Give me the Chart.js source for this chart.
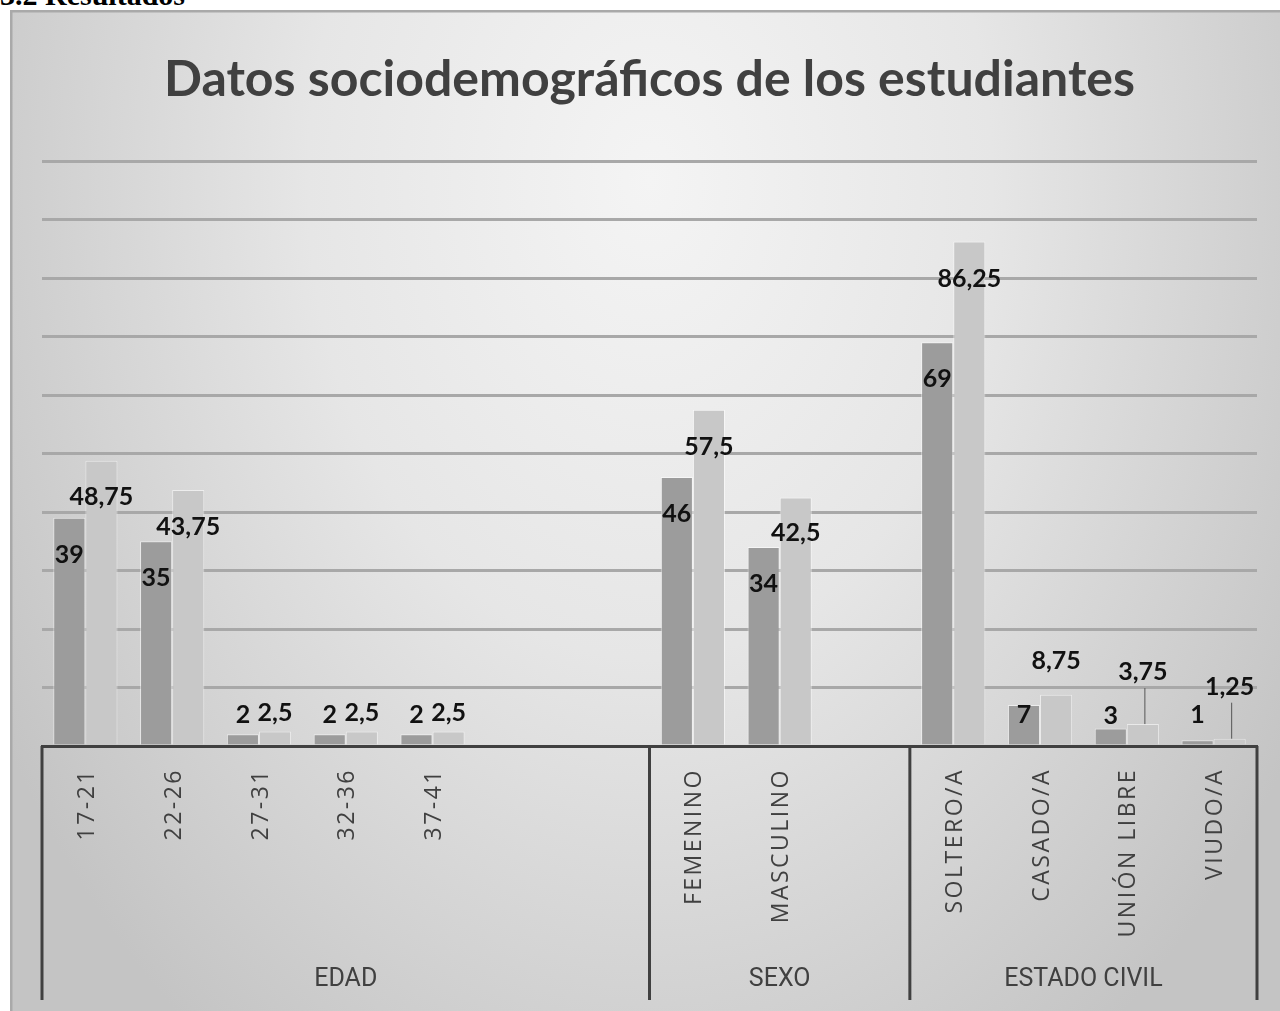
<!DOCTYPE html>
<html>
<head>
<meta charset="utf-8">
<script src="https://cdn.jsdelivr.net/npm/chart.js@4.4.1/dist/chart.umd.min.js"></script>
<style>
  html, body { margin: 0; padding: 0; background: #fff; width: 1280px; height: 1011px; overflow: hidden; }
  #heading { position: absolute; left: 0; top: -22px; font: bold 30px "Liberation Serif", serif; color: #000; }
  #box { position: absolute; left: 10px; top: 10px; width: 1270px; height: 1001px; }
</style>
</head>
<body>
<div id="heading">3.2 Resultados</div>
<div id="box"><canvas id="socioChart" width="1270" height="1001"></canvas></div>
<script>
const categories = ["17-21", "22-26", "27-31", "32-36", "37-41", "", "", "FEMENINO", "MASCULINO", "", "SOLTERO/A", "CASADO/A", "UNIÓN LIBRE", "VIUDO/A"];
const groups = ["EDAD", "SEXO", "ESTADO CIVIL"];
const groupSizes = [7, 3, 4];

const frecuencia = [39, 35, 2, 2, 2, null, null, 46, 34, null, 69, 7, 3, 1];
const porcentaje = [48.75, 43.75, 2.5, 2.5, 2.5, null, null, 57.5, 42.5, null, 86.25, 8.75, 3.75, 1.25];

// label nudges from the bar top (px, + = down), the way they were placed by hand in the original
const freqLabelShift = [37, 37, -19, -19, -19, null, null, 37, 37, null, 37, 10, -13, -25];
const pctLabelShift = [36, 37, -18, -18, -18, null, null, 37, 36, null, 37, -34, -52, -52];

const textGray = "#404040";

// gradient background + frame
const backgroundPlugin = {
    id: "bg",
    beforeDraw(chart) {
        const ctx = chart.ctx;
        const w = chart.width, h = chart.height;
        ctx.save();
        ctx.translate(640, 170);
        ctx.scale(1, 1.4);
        const g = ctx.createRadialGradient(0, 0, 0, 0, 0, 760);
        g.addColorStop(0, "#f4f4f4");
        g.addColorStop(0.45, "#e6e6e6");
        g.addColorStop(1, "#c4c4c4");
        ctx.fillStyle = g;
        ctx.fillRect(-700, -200, 1400, 900);
        ctx.restore();
        ctx.save();
        ctx.strokeStyle = "#a9a9a9";
        ctx.lineWidth = 3;
        ctx.beginPath();
        ctx.moveTo(1, h);
        ctx.lineTo(1, 1);
        ctx.lineTo(w, 1);
        ctx.stroke();
        ctx.restore();
    },
};

// value labels
const valueLabels = {
    id: "valueLabels",
    afterDatasetsDraw(chart) {
        const ctx = chart.ctx;
        const shifts = [freqLabelShift, pctLabelShift];
        ctx.save();
        ctx.font = "bold 25px Lato";
        ctx.fillStyle = "#111";
        ctx.textAlign = "center";
        ctx.textBaseline = "middle";
        chart.data.datasets.forEach((ds, di) => {
            const meta = chart.getDatasetMeta(di);
            meta.data.forEach((bar, i) => {
                const v = ds.data[i];
                if (v === null) return;
                const y = bar.y + shifts[di][i];
                ctx.fillText(String(v).replace(".", ","), bar.x, y);
                if (shifts[di][i] <= -50) {
                    // thin leader line down to the bar
                    ctx.strokeStyle = "#555";
                    ctx.lineWidth = 1;
                    ctx.beginPath();
                    ctx.moveTo(bar.x + 2, y + 16);
                    ctx.lineTo(bar.x + 2, bar.y);
                    ctx.stroke();
                }
            });
        });
        ctx.restore();
    },
};

// multi-level category axis: rotated labels, group boxes and group names
const groupAxis = {
    id: "groupAxis",
    afterDraw(chart) {
        const ctx = chart.ctx;
        const x = chart.scales.x;
        const top = chart.chartArea.bottom;
        const half = (x.getPixelForValue(1) - x.getPixelForValue(0)) / 2;

        ctx.save();
        ctx.fillStyle = textGray;
        ctx.font = "23px 'Open Sans'";
        ctx.letterSpacing = "2.5px";
        ctx.textAlign = "right";
        ctx.textBaseline = "middle";
        categories.forEach((c, i) => {
            if (!c) return;
            ctx.save();
            ctx.translate(x.getPixelForValue(i) + 2, top + 22);
            ctx.rotate(-Math.PI / 2);
            ctx.fillText(c, 0, 0);
            ctx.restore();
        });
        ctx.letterSpacing = "0px";

        ctx.strokeStyle = textGray;
        ctx.lineWidth = 3;
        ctx.font = "25px 'Liberation Sans Narrow', 'Roboto'";
        ctx.textAlign = "center";
        let start = 0;
        const edges = [x.left];
        groups.forEach((g, gi) => {
            const end = start + groupSizes[gi] - 1;
            const left = x.getPixelForValue(start) - half;
            const right = x.getPixelForValue(end) + half;
            edges.push(right);
            ctx.fillText(g, (left + right) / 2, top + 234);
            start = end + 1;
        });
        edges.forEach((ex) => {
            ctx.beginPath();
            ctx.moveTo(ex, top);
            ctx.lineTo(ex, top + 254);
            ctx.stroke();
        });
        ctx.restore();
    },
};

new Chart(document.getElementById("socioChart"), {
    type: "bar",
    data: {
        labels: categories,
        datasets: [
            { label: "Frecuencia", data: frecuencia, backgroundColor: "#9c9c9c", borderColor: "rgba(255,255,255,0.55)", borderWidth: 1 },
            { label: "Porcentaje", data: porcentaje, backgroundColor: "#c8c8c8", borderColor: "rgba(255,255,255,0.55)", borderWidth: 1 },
        ],
    },
    options: {
        responsive: false,
        animation: false,
        devicePixelRatio: 1,
        layout: { padding: { left: 32, right: 23, top: 0, bottom: 10 } },
        datasets: { bar: { categoryPercentage: 0.74, barPercentage: 1 } },
        plugins: {
            legend: { display: false },
            tooltip: { enabled: false },
            title: {
                display: true,
                text: "Datos sociodemográficos de los estudiantes",
                color: textGray,
                font: { family: "Lato", size: 50, weight: "bold" },
                padding: { top: 40, bottom: 51 },
            },
        },
        scales: {
            x: {
                grid: { display: false },
                border: { display: true, color: textGray, width: 3 },
                ticks: { display: false },
                afterFit: (s) => { s.height = 255; },
            },
            y: {
                min: 0,
                max: 100,
                ticks: { display: false, stepSize: 10 },
                grid: { color: "#a8a8a8", lineWidth: 3, drawTicks: false },
                border: { display: false },
                afterFit: (s) => { s.width = 0; },
            },
        },
    },
    plugins: [backgroundPlugin, valueLabels, groupAxis],
});
</script>
</body>
</html>
